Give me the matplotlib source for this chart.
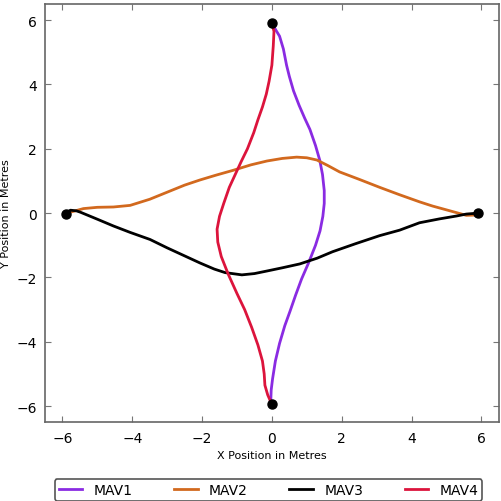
import numpy as np
import matplotlib
matplotlib.use('Agg')
import matplotlib.pyplot as plt

# MAV trajectories (metres)
mav1_x = [0.0, -0.03, -0.02, 0.02, 0.1, 0.22, 0.37, 0.52, 0.68, 0.85, 1.05, 1.25, 1.38, 1.46, 1.5,
          1.5, 1.45, 1.37, 1.25, 1.09, 0.94, 0.78, 0.62, 0.5, 0.42, 0.33, 0.22, 0.08, 0.0]
mav1_y = [-5.92, -5.8, -5.5, -5.15, -4.6, -4.05, -3.5, -3.05, -2.55, -2.05, -1.55, -1.0, -0.55, -0.1, 0.3,
          0.7, 1.2, 1.65, 2.1, 2.6, 2.95, 3.35, 3.8, 4.25, 4.6, 5.1, 5.5, 5.75, 5.9]

mav2_x = [-5.9, -5.77, -5.6, -5.4, -5.0, -4.54, -4.06, -3.5, -3.0, -2.5, -2.06, -1.6, -1.11, -0.6, -0.14,
          0.3, 0.71, 1.0, 1.29, 1.6, 1.94, 2.5, 3.09, 3.66, 4.23, 4.6, 5.17, 5.57, 5.86]
mav2_y = [-0.03, 0.03, 0.08, 0.14, 0.18, 0.19, 0.24, 0.43, 0.65, 0.87, 1.03, 1.18, 1.33, 1.5, 1.62,
          1.7, 1.74, 1.72, 1.65, 1.48, 1.28, 1.05, 0.8, 0.57, 0.35, 0.22, 0.05, -0.07, -0.06]

mav3_x = [-5.91, -5.77, -5.6, -5.49, -5.0, -4.54, -4.06, -3.49, -3.0, -2.5, -2.06, -1.65, -1.34, -0.86,
          -0.5, -0.14, 0.3, 0.8, 1.3, 1.74, 2.4, 3.09, 3.66, 4.23, 4.8, 5.29, 5.57, 5.91]
mav3_y = [0.0, 0.09, 0.07, 0.03, -0.19, -0.4, -0.6, -0.82, -1.08, -1.33, -1.55, -1.74, -1.85, -1.92,
          -1.88, -1.8, -1.7, -1.58, -1.4, -1.2, -0.95, -0.7, -0.53, -0.3, -0.18, -0.09, -0.03, 0.0]

mav4_x = [0.0, 0.06, 0.04, 0.0, -0.08, -0.16, -0.27, -0.4, -0.52, -0.7, -0.88, -1.05, -1.22, -1.38, -1.5,
          -1.57, -1.55, -1.45, -1.25, -1.0, -0.78, -0.58, -0.4, -0.27, -0.22, -0.2, -0.12, -0.04, 0.0]
mav4_y = [5.9, 5.65, 5.2, 4.6, 4.1, 3.7, 3.3, 2.9, 2.5, 2.0, 1.6, 1.2, 0.8, 0.3, -0.1,
          -0.5, -0.9, -1.35, -1.9, -2.5, -3.0, -3.55, -4.1, -4.6, -5.0, -5.35, -5.65, -5.85, -5.92]

# goal / start points
pts_x = [0.0, 0.0, -5.91, 5.91]
pts_y = [5.9, -5.92, -0.02, 0.0]

fig = plt.figure(figsize=(5.02, 5.02), dpi=100)
ax = fig.add_axes([0.0896, 0.157, 0.904, 0.833])

ax.plot(mav1_x, mav1_y, color='#8a2be2', lw=2, label='MAV1')
ax.plot(mav2_x, mav2_y, color='#d2691e', lw=2, label='MAV2')
ax.plot(mav3_x, mav3_y, color='black', lw=2, label='MAV3')
ax.plot(mav4_x, mav4_y, color='#dc143c', lw=2, label='MAV4')
ax.plot(pts_x, pts_y, 'o', color='black', ms=6.5, zorder=5)

ax.set_xlim(-6.5, 6.5)
ax.set_ylim(-6.5, 6.5)
ax.set_xticks([-6, -4, -2, 0, 2, 4, 6])
ax.set_yticks([-6, -4, -2, 0, 2, 4, 6])
ax.tick_params(direction='in', top=True, right=True, length=4, color='#777777', labelsize=10, pad=6)
for s in ax.spines.values():
    s.set_color('#666666')
    s.set_linewidth(1.2)

ax.set_xlabel('X Position in Metres', fontsize=8)
ax.set_ylabel('Y Position in Metres', fontsize=8)

leg = fig.legend(loc='upper center', bbox_to_anchor=(0.535, 0.058), ncol=4, fontsize=10,
                 handlelength=1.7, columnspacing=3.0, borderpad=0.3, fancybox=True, framealpha=1)
leg.get_frame().set_edgecolor('#555555')
leg.get_frame().set_linewidth(1.2)

fig.savefig('out.png', dpi=100)
